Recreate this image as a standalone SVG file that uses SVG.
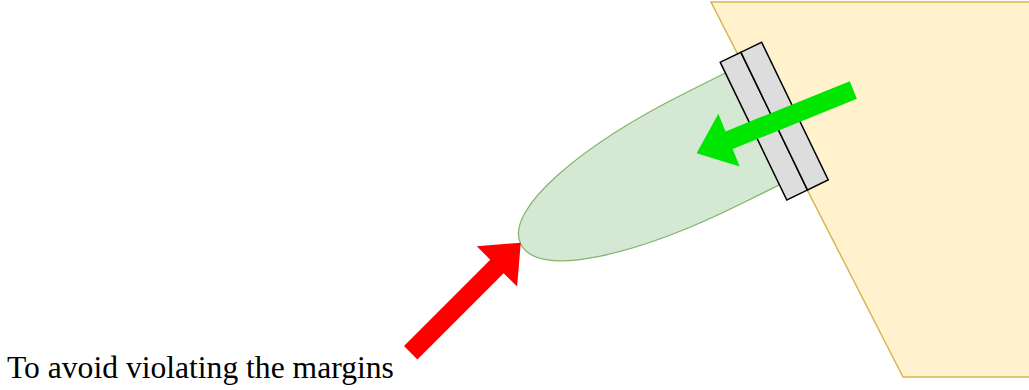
<svg xmlns="http://www.w3.org/2000/svg" width="1029" height="390" viewBox="0 0 1029 390">
  <defs>
    <style>
      .lobe { fill: #d5e8d4; stroke: #82b366; stroke-width: 1.2; }
      .wall { fill: #fff2cc; stroke: #d6b656; stroke-width: 1.5; }
      .plate { fill: #dddddd; stroke: #000000; stroke-width: 1.5; }
      .arrow-green { fill: #00e600; stroke: none; }
      .arrow-red { fill: #ff0000; stroke: none; }
      .label { font-family: "Liberation Serif", "Times New Roman", serif; font-size: 31.6px; fill: #000000; }
    </style>
  </defs>

  <!-- rounded lobe; its open end is tucked under the plate and the wall -->
  <g id="lobe" transform="translate(751.5,131) rotate(153.5)">
    <path class="lobe" d="M -60,63.6 L 40,63.6 C 159.4,63.6 257,40 257,1.5 C 257,-37 159.4,-60.6 40,-60.6 L -60,-60.6 Z"/>
  </g>

  <!-- wall block running off the right edge -->
  <g id="wall">
    <polygon class="wall" points="711,2 1035,2 1035,377 903,377"/>
  </g>

  <!-- double plate across the wall opening -->
  <g id="plate" transform="translate(774.2,121.1) rotate(-25.8)">
    <rect class="plate" x="-23" y="-76.5" width="23" height="153"/>
    <rect class="plate" x="0" y="-76.5" width="23" height="153"/>
  </g>

  <g id="connectors">
    <!-- inflow through the plate -->
    <polygon class="arrow-green" transform="translate(853.3,90) rotate(158)"
             points="0,-9.5 134,-9.5 134,-28.5 169,0 134,28.5 134,9.5 0,9.5"/>
    <!-- push against the tip -->
    <polygon class="arrow-red" transform="translate(410.7,352.7) rotate(-45)"
             points="0,-9.5 122,-9.5 122,-28.5 155.6,0 122,28.5 122,9.5 0,9.5"/>
  </g>

  <g id="caption">
    <text class="label" x="7" y="378">To avoid violating the margins</text>
  </g>
</svg>
